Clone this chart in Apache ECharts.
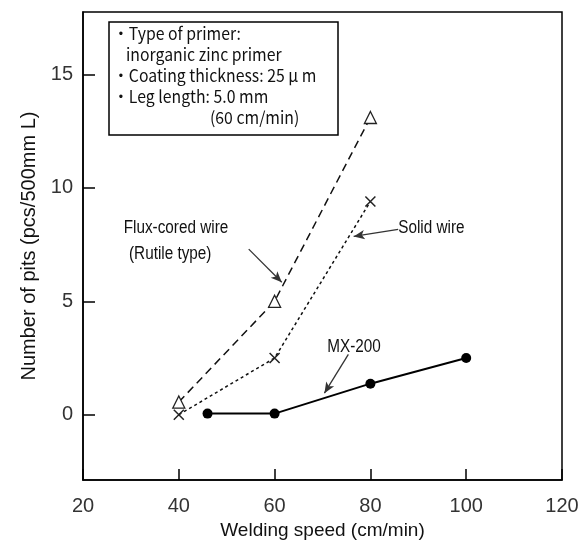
<!DOCTYPE html>
<html>
<head>
<meta charset="utf-8">
<script src="https://cdn.jsdelivr.net/npm/echarts@6/dist/echarts.min.js"></script>
<style>html,body{margin:0;padding:0;background:#fff}#c{width:585px;height:545px}</style>
</head>
<body>
<div id="c"></div>
<script>
const xTicks = [20, 40, 60, 80, 100, 120];
const yTicks = [0, 5, 10, 15];
const fluxX = [40, 60, 80];
const fluxY = [0.56, 5.0, 13.1];
const solidX = [40, 60, 80];
const solidY = [0.0, 2.5, 9.4];
const mxX = [46, 60, 80, 100];
const mxY = [0.05, 0.05, 1.37, 2.5];

const pair = (xs, ys) => xs.map((x, i) => [x, ys[i]]);
const FONT = "'Liberation Sans', Arial, sans-serif";
const BOXFONT = "'Noto Sans CJK JP', sans-serif";

const chart = echarts.init(document.getElementById('c'));
const crossPath = 'path://M0,0L10,10M10,0L0,10';

function arrow(from, to) {
  return {
    type: 'line', silent: true, symbol: ['none', 'arrow'], symbolSize: [7, 11],
    lineStyle: {color: '#333', width: 1.3, type: 'solid'}, label: {show: false},
    data: [[{coord: from}, {coord: to}]]
  };
}

chart.setOption({
  animation: false,
  backgroundColor: '#fff',
  grid: {left: 83, right: 23, top: 12, bottom: 53, show: true, borderColor: '#000', borderWidth: 1.5, backgroundColor: 'transparent'},
  xAxis: {
    type: 'value', min: 20, max: 120, interval: 20,
    name: 'Welding speed (cm/min)', nameLocation: 'middle', nameGap: 37,
    nameTextStyle: {fontFamily: FONT, fontSize: 19, color: '#111'},
    axisLine: {onZero: false, lineStyle: {color: '#000', width: 1.5}},
    axisTick: {inside: true, length: 11, lineStyle: {color: '#000', width: 1.5}},
    axisLabel: {fontFamily: FONT, fontSize: 20, color: '#333', margin: 16},
    splitLine: {show: false}
  },
  yAxis: {
    type: 'value', min: -2.88, max: 17.75,
    name: 'Number of pits (pcs/500mm L)', nameLocation: 'middle', nameGap: 42,
    nameTextStyle: {fontFamily: FONT, fontSize: 20, color: '#111'},
    axisLine: {onZero: false, lineStyle: {color: '#000', width: 1.5}},
    axisTick: {inside: true, length: 12, customValues: yTicks, lineStyle: {color: '#000', width: 1.5}},
    axisLabel: {customValues: yTicks, fontFamily: FONT, fontSize: 20, color: '#333', margin: 10},
    splitLine: {show: false}
  },
  series: [
    {
      name: 'Flux-cored wire', type: 'line', data: pair(fluxX, fluxY),
      symbol: 'triangle', symbolSize: 12,
      itemStyle: {color: '#fff', borderColor: '#222', borderWidth: 1.3},
      lineStyle: {color: '#111', width: 1.5, type: [8, 5]},
      markLine: arrow([54.6, 7.3], [61.5, 5.84])
    },
    {
      name: 'Solid wire', type: 'line', data: pair(solidX, solidY),
      symbol: crossPath, symbolSize: 10,
      itemStyle: {color: 'none', borderColor: '#222', borderWidth: 1.5},
      lineStyle: {color: '#111', width: 1.5, type: [3, 3]},
      markLine: arrow([85.8, 8.17], [76.5, 7.86])
    },
    {
      name: 'MX-200', type: 'line', data: pair(mxX, mxY),
      symbol: 'circle', symbolSize: 10,
      itemStyle: {color: '#000'},
      lineStyle: {color: '#000', width: 2},
      markLine: arrow([75.4, 2.66], [70.4, 0.95])
    }
  ]
});

function px(x, y) { return chart.convertToPixel({gridIndex: 0}, [x, y]); }
function lbl(x, y, text) {
  const p = px(x, y);
  return {type: 'text', x: p[0], y: p[1], scaleX: 0.85,
    style: {text: text, fontFamily: FONT, fontSize: 18, fill: '#111', align: 'left', verticalAlign: 'middle'}};
}

const boxElems = [{type: 'rect', shape: {x: 109, y: 22, width: 229, height: 113}, style: {fill: '#fff', stroke: '#000', lineWidth: 1.5}}];
const boxTextX = [113, 126, 113, 113, 210];
const boxStr = ['・Type of primer:', 'inorganic zinc primer', '・Coating thickness: 25 μ m', '・Leg length: 5.0 mm', '(60 cm/min)'];
boxStr.forEach((t, i) => {
  boxElems.push({type: 'text', x: boxTextX[i], y: 34 + i * 21, scaleX: 0.93,
    style: {text: t, fontFamily: BOXFONT, fontSize: 17, fill: '#111', verticalAlign: 'middle'}});
});

chart.setOption({
  graphic: boxElems.concat([
    lbl(28.5, 8.25, 'Flux-cored wire'),
    lbl(29.6, 7.09, '(Rutile type)'),
    lbl(85.8, 8.25, 'Solid wire'),
    lbl(71.0, 3.0, 'MX-200')
  ])
});
</script>
</body>
</html>
